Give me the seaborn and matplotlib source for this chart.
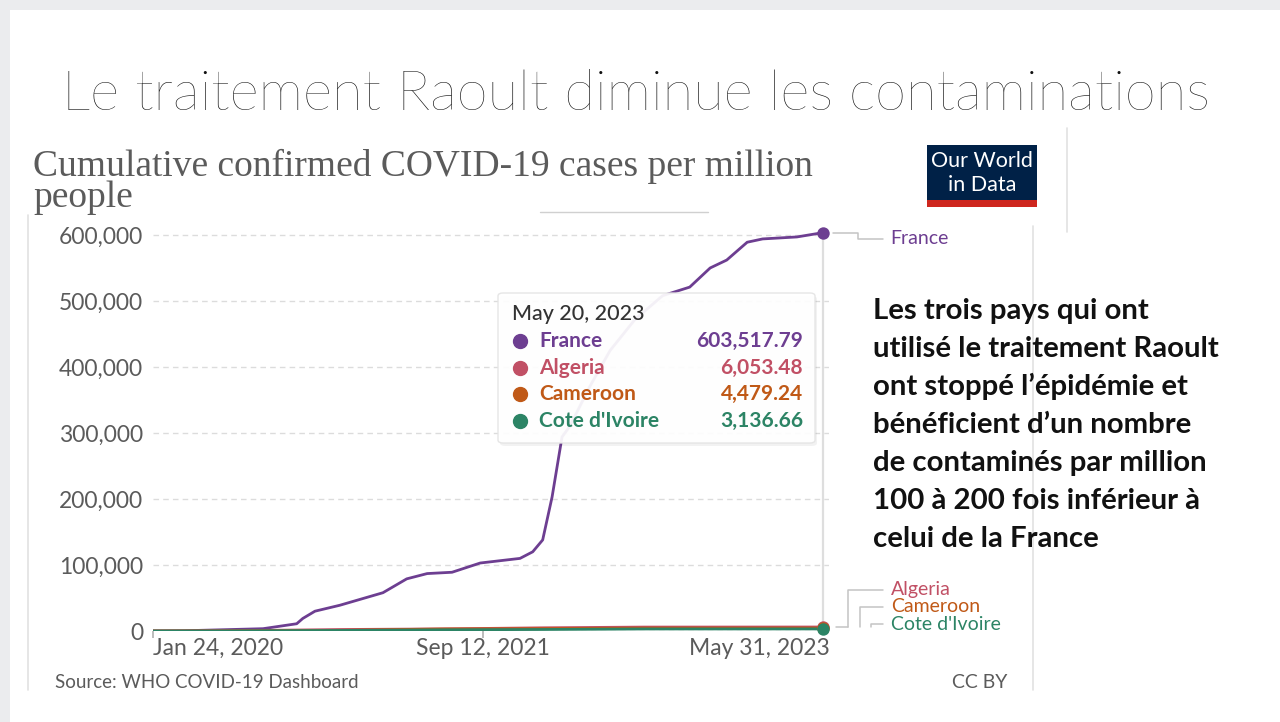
import numpy as np
import pandas as pd
import matplotlib
matplotlib.use("Agg")
import matplotlib.pyplot as plt
import matplotlib.dates as mdates
from matplotlib.patches import FancyBboxPatch, Rectangle
from matplotlib.lines import Line2D
import seaborn as sns

# Cumulative confirmed cases per million
france_dates = ["2020-01-24", "2020-03-18", "2020-08-10", "2020-10-10", "2020-10-21",
                "2020-11-12", "2020-12-27", "2021-03-15", "2021-04-27", "2021-06-03",
                "2021-07-18", "2021-09-07", "2021-11-18", "2021-12-11", "2021-12-29",
                "2022-01-15", "2022-02-02", "2022-02-16", "2022-03-24", "2022-04-30",
                "2022-06-14", "2022-08-03", "2022-09-21", "2022-10-28", "2022-11-27",
                "2023-01-03", "2023-01-31", "2023-04-03", "2023-05-20"]
france_values = [0, 300, 3500, 11000, 19000, 30000, 39000, 58000, 79000, 87000,
                 89000, 103000, 110000, 120000, 138000, 203000, 294000, 310000,
                 370000, 425000, 472000, 508000, 521000, 550000, 562000, 589000,
                 594000, 597000, 603517.79]

africa_dates = ["2020-01-24", "2020-06-01", "2020-12-31", "2021-06-30",
                "2021-12-31", "2022-06-30", "2023-05-20"]
algeria_values = [0, 210, 2270, 3160, 4860, 5940, 6053.48]
cameroon_values = [0, 230, 1030, 3070, 3580, 4400, 4479.24]
civ_values = [0, 110, 840, 1800, 2300, 3080, 3136.66]

countries = ["France", "Algeria", "Cameroon", "Cote d'Ivoire"]
colors = ["#6d3e91", "#c15065", "#c05917", "#2c8465"]
hover_date = "2023-05-20"
hover_values = [603517.79, 6053.48, 4479.24, 3136.66]
hover_labels = ["603,517.79", "6,053.48", "4,479.24", "3,136.66"]
x_ticks = ["2020-01-24", "2021-09-12", "2023-05-31"]
x_tick_labels = ["Jan 24, 2020", "Sep 12, 2021", "May 31, 2023"]
y_ticks = [0, 100000, 200000, 300000, 400000, 500000, 600000]

side_text = ["Les trois pays qui ont",
             "utilisé le traitement Raoult",
             "ont stoppé l\u2019épidémie et",
             "bénéficient d\u2019un nombre",
             "de contaminés par million",
             "100 à 200 fois inférieur à",
             "celui de la France"]

frames = [pd.DataFrame({"date": pd.to_datetime(france_dates), "value": france_values, "country": "France"})]
for name, vals in zip(countries[1:], [algeria_values, cameroon_values, civ_values]):
    frames.append(pd.DataFrame({"date": pd.to_datetime(africa_dates), "value": vals, "country": name}))
df = pd.concat(frames, ignore_index=True)
palette = dict(zip(countries, colors))

sns.set_theme(style="white")
plt.rcParams["font.family"] = ["Lato", "DejaVu Sans"]

W, H = 1280, 722
fig = plt.figure(figsize=(12.8, 7.22), dpi=100)


def fx(px):
    return px / W


def fy(py):
    return 1 - py / H


# slide frame
fig.add_artist(Rectangle((0, fy(10)), 1, 10 / H, transform=fig.transFigure, color="#ebecee", lw=0, zorder=0))
fig.add_artist(Rectangle((0, 0), 10 / W, 1, transform=fig.transFigure, color="#ebecee", lw=0, zorder=0))

fig.text(fx(62), fy(110), "Le traitement Raoult diminue les contaminations", fontsize=40.5,
         fontweight="light", color="#111111", va="baseline", ha="left")

# screenshot edges
grey = "#e2e2e2"
fig.add_artist(Line2D([fx(28), fx(28)], [fy(215), fy(690)], transform=fig.transFigure, color=grey, lw=1.2))
fig.add_artist(Line2D([fx(1033), fx(1033)], [fy(226), fy(690)], transform=fig.transFigure, color=grey, lw=1.2))
fig.add_artist(Line2D([fx(1067), fx(1067)], [fy(128), fy(232)], transform=fig.transFigure, color=grey, lw=1.2))
fig.add_artist(Line2D([fx(540), fx(708)], [fy(212), fy(212)], transform=fig.transFigure, color="#d0d0d0", lw=1))

# chart title
fig.text(fx(33), fy(207), "Cumulative confirmed COVID-19 cases per million\npeople", family="Liberation Serif",
         fontsize=27, color="#5b5b5b", va="baseline", linespacing=0.88)

# OWID logo
fig.add_artist(Rectangle((fx(927), fy(207)), 110 / W, 62 / H, transform=fig.transFigure, color="#002147", lw=0))
fig.add_artist(Rectangle((fx(927), fy(207)), 110 / W, 7 / H, transform=fig.transFigure, color="#ce261e", lw=0))
fig.text(fx(982), fy(161), "Our World", color="white", fontsize=15.5, ha="center", va="center")
fig.text(fx(982), fy(185), "in Data", color="white", fontsize=15.5, ha="center", va="center")

# plot area
ax = fig.add_axes([fx(153), fy(631), (829 - 153) / W, 400 / H])
sns.lineplot(data=df, x="date", y="value", hue="country", palette=palette, hue_order=countries,
             linewidth=2, legend=False, ax=ax, zorder=3)
ax.set_xlim(pd.Timestamp(x_ticks[0]), pd.Timestamp(x_ticks[-1]))
ax.set_ylim(0, 606000)
for s in ax.spines.values():
    s.set_visible(False)
ax.set_xlabel("")
ax.set_ylabel("")
ax.set_yticks(y_ticks)
ax.set_yticklabels([f"{v:,}" for v in y_ticks], color="#5b5b5b", fontsize=16.5)
ax.tick_params(axis="y", length=0, pad=7)
ax.yaxis.grid(True, linestyle=(0, (4, 3)), color="#dcdcdc", lw=1)
ax.set_xticks(pd.to_datetime(x_ticks[:2]))
ax.set_xticklabels([])
ax.tick_params(axis="x", length=5, color="#b0b0b0", width=1.2, direction="out", bottom=True)

hd = pd.Timestamp(hover_date)
ax.plot([hd, hd], [0, hover_values[0]], color="#dedede", lw=1.6, zorder=1)
for val, col in zip(hover_values, colors):
    ax.scatter([hd], [val], s=80, color=col, zorder=6, clip_on=False, linewidths=0)

fig.canvas.draw()
to_px = ax.transData.transform

# x tick labels
for d, lab, ha in zip(x_ticks, x_tick_labels, ["left", "center", "right"]):
    xp = to_px((mdates.date2num(pd.Timestamp(d)), 0))[0]
    if ha == "right":
        xp += 1
    fig.text(xp / W, fy(655), lab, color="#5b5b5b", fontsize=16.5, ha=ha, va="baseline")

# end labels with connectors
ex, ey = to_px((mdates.date2num(hd), hover_values[0]))
lc = "#c4c4c4"
fig.add_artist(Line2D([ex + 10, ex + 35, ex + 35, ex + 60], [ey, ey, ey - 6, ey - 6], color=lc, lw=1.1, transform=None))
fig.text((ex + 67) / W, (ey - 6) / H, countries[0], color=colors[0], fontsize=14, va="center")

bx, by = to_px((mdates.date2num(hd), 0))
rows = [by + 41, by + 24, by + 7]
elbows = [bx + 25, bx + 37, bx + 48]
fig.add_artist(Line2D([bx + 13, bx + 25], [by + 4, by + 4], color=lc, lw=1.1, transform=None))
for name, col, ry, ex2 in zip(countries[1:], colors[1:], rows, elbows):
    fig.add_artist(Line2D([ex2, ex2, bx + 60], [by + 4, ry, ry], color=lc, lw=1.1, transform=None))
    fig.text((bx + 68) / W, ry / H, name, color=col, fontsize=14, va="center")

# tooltip
tip = FancyBboxPatch((fx(498), fy(443)), 317 / W, 150 / H, boxstyle="round,pad=0,rounding_size=0.004",
                     transform=fig.transFigure, facecolor="white", edgecolor="#e4e4e4", lw=1,
                     alpha=0.93, zorder=5)
shadow = FancyBboxPatch((fx(500), fy(446)), 317 / W, 150 / H, boxstyle="round,pad=0,rounding_size=0.004",
                        transform=fig.transFigure, facecolor="#000000", lw=0, alpha=0.05, zorder=4)
fig.add_artist(shadow)
fig.add_artist(tip)
fig.text(fx(512), fy(314), "May 20, 2023", color="#333333", fontsize=15.5, fontweight="medium", va="center", zorder=6)
for i, (name, col, lab) in enumerate(zip(countries, colors, hover_labels)):
    yy = 341 + i * 26.7
    fig.add_artist(Line2D([fx(520)], [fy(yy)], marker="o", ms=10, color=col, transform=fig.transFigure, zorder=6))
    fig.text(fx(539), fy(yy), name, color=col, fontsize=15, fontweight="bold", va="center", zorder=6)
    fig.text(fx(803), fy(yy), lab, color=col, fontsize=15, fontweight="bold", va="center", ha="right", zorder=6)

# footer
fig.text(fx(55), fy(688), "Source: WHO COVID-19 Dashboard", color="#5b5b5b", fontsize=13.5, va="baseline")
fig.text(fx(1007), fy(688), "CC BY", color="#5b5b5b", fontsize=14, va="baseline", ha="right")

# side comment
for i, line in enumerate(side_text):
    fig.text(fx(873), fy(319 + i * 38), line, fontsize=21.2, fontweight="bold", color="#111111", va="baseline")

fig.savefig("out.png", dpi=100)
